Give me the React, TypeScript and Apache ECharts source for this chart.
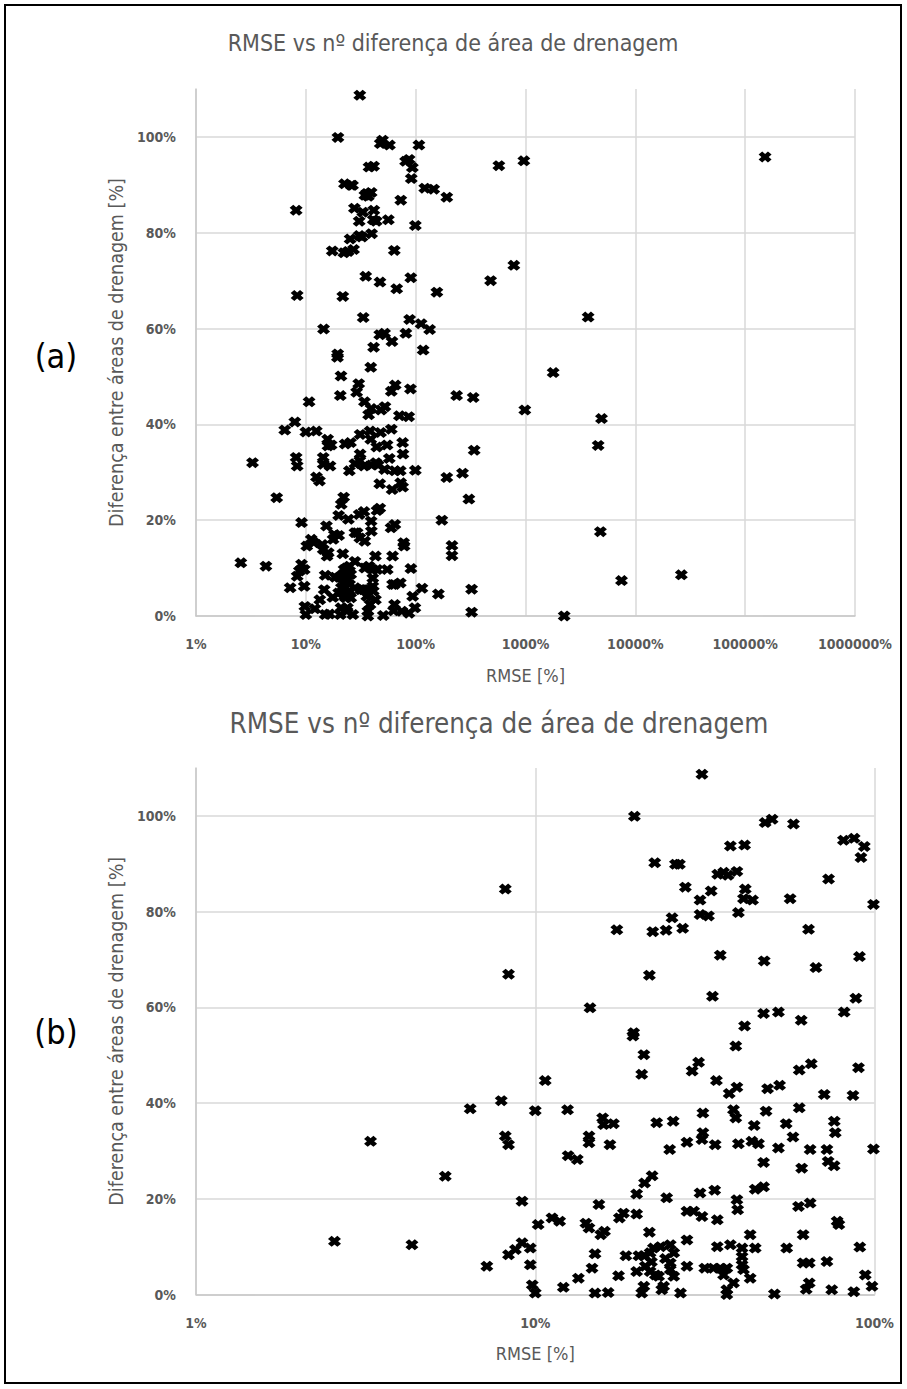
import React, { useEffect, useRef } from "react";
import * as echarts from "echarts";

// RMSE [%] vs drainage-area difference [%] for stations with RMSE up to 100 %
const ptsLow: [number, number][] = [
  [31.0, 108.7], [19.6, 99.9], [47.6, 98.6], [49.9, 99.3], [57.7, 98.3],
  [81.0, 94.9], [87.1, 95.3], [93.3, 93.6], [91.2, 91.3], [37.6, 93.7],
  [41.4, 93.9], [22.5, 90.2], [25.9, 89.9], [26.6, 89.9], [34.5, 87.8],
  [35.9, 88.2], [37.0, 87.6], [39.3, 88.4], [73.2, 86.8], [27.7, 85.1],
  [33.0, 84.3], [30.6, 82.4], [41.6, 84.7], [41.1, 82.7], [43.7, 82.4],
  [56.4, 82.7], [99.3, 81.5], [30.6, 79.4], [32.4, 79.1], [39.7, 79.8],
  [25.3, 78.7], [17.4, 76.2], [22.2, 75.8], [24.3, 76.1], [27.2, 76.5],
  [63.9, 76.3], [35.1, 70.9], [47.3, 69.7], [67.2, 68.3], [90.3, 70.6],
  [21.7, 66.7], [33.3, 62.3], [88.1, 61.9], [14.5, 59.9], [47.1, 58.7],
  [52.1, 59.0], [60.8, 57.3], [81.4, 59.0], [41.4, 56.1], [19.5, 54.7],
  [19.4, 54.0], [8.16, 84.7], [8.34, 66.9],
  [39.0, 51.9], [30.3, 48.5], [29.0, 46.7], [34.2, 44.7], [37.3, 42.0],
  [39.3, 43.3], [48.4, 43.0], [52.5, 43.7], [60.0, 46.9], [65.1, 48.2],
  [89.7, 47.4], [71.1, 41.8], [86.4, 41.6], [31.2, 37.9], [38.4, 38.6],
  [39.0, 36.9], [47.9, 38.3], [60.0, 39.0], [44.2, 35.3], [54.9, 35.7],
  [76.1, 36.2], [76.6, 33.8], [31.2, 33.8], [31.0, 32.4], [57.5, 32.9],
  [28.0, 31.8], [33.9, 31.3], [39.7, 31.5], [43.5, 32.0], [45.5, 31.5],
  [52.1, 30.6], [64.6, 30.3], [72.4, 30.3], [99.3, 30.4], [20.9, 50.1],
  [20.6, 46.0], [10.7, 44.7], [7.94, 40.5], [10.0, 38.4], [12.45, 38.6],
  [15.8, 36.9], [15.9, 35.5], [17.0, 35.7], [22.8, 35.9], [25.5, 36.2],
  [8.16, 33.1], [8.34, 31.3], [14.4, 33.1], [14.4, 31.7], [16.6, 31.3],
  [24.9, 30.3], [47.1, 27.6], [61.0, 26.4], [73.0, 27.8], [76.0, 26.9],
  [12.5, 29.0], [13.3, 28.2], [22.1, 24.8], [21.0, 23.3], [19.9, 21.0],
  [24.4, 20.2], [9.14, 19.5], [15.4, 18.8], [10.2, 14.6], [11.2, 16.0],
  [11.8, 15.3], [14.1, 14.9], [14.4, 13.9], [15.6, 12.5], [16.0, 13.2],
  [17.7, 16.0], [18.2, 17.0], [19.9, 16.8], [21.7, 13.0], [28.0, 17.4],
  [29.3, 17.4], [31.0, 16.3], [28.0, 11.4], [9.14, 10.8], [8.74, 9.4],
  [8.34, 8.3], [9.67, 9.7], [9.67, 6.2], [7.2, 5.9], [9.8, 2.0],
  [10.0, 0.3], [12.1, 1.5], [13.4, 3.4], [14.7, 5.5], [15.0, 8.5],
  [15.0, 0.3], [16.4, 0.4], [17.6, 3.9], [18.5, 8.1], [20.2, 8.1],
  [20.9, 8.1], [21.8, 8.7], [22.3, 9.7], [23.4, 10.0], [25.0, 10.4],
  [25.6, 8.7], [21.1, 5.9], [21.8, 4.8], [22.6, 4.1], [23.1, 3.8],
  [25.0, 6.6], [25.0, 5.2], [25.6, 3.8], [23.9, 1.7], [23.6, 1.0],
  [20.9, 1.7], [20.6, 0.3], [19.9, 4.8], [26.8, 0.3], [28.0, 5.9],
  [22.0, 6.8], [24.2, 7.5],
  [30.6, 21.2], [33.8, 21.8], [44.5, 22.0], [47.1, 22.5], [39.3, 19.8],
  [39.5, 17.7], [59.7, 18.4], [64.6, 19.1], [77.6, 15.3], [78.5, 14.6],
  [34.4, 15.6], [61.6, 12.5], [34.4, 10.0], [37.6, 10.4], [40.7, 9.7],
  [43.0, 12.5], [44.5, 9.7], [40.7, 7.9], [55.1, 9.7], [90.5, 9.9],
  [61.6, 6.6], [64.2, 6.6], [72.4, 6.9], [31.6, 5.5], [33.5, 5.5],
  [35.1, 5.5], [36.7, 5.5], [35.9, 4.1], [40.7, 6.2], [41.1, 5.2],
  [43.0, 3.4], [38.4, 2.4], [36.7, 1.0], [36.7, 0.0], [93.9, 4.1],
  [98.3, 1.7], [86.9, 0.6], [74.8, 1.0], [62.9, 1.1], [64.2, 2.4],
  [50.7, 0.1],
  [2.56, 11.1], [3.27, 32.0], [4.33, 10.4], [5.43, 24.7], [6.43, 38.8],
];

// stations whose RMSE exceeds 100 %
const ptsHigh: [number, number][] = [
  [107, 98.3], [121, 89.3], [146, 89.1], [192, 87.4], [156, 67.6],
  [481, 70.0], [572, 94.0], [966, 95.0], [151800, 95.8], [783, 73.2],
  [3715, 62.4], [1786, 50.8], [236, 46.0], [334, 45.6], [986, 43.0],
  [4920, 41.2], [4586, 35.6], [341, 34.6], [192, 28.9], [267, 29.8],
  [305, 24.4], [4808, 17.6], [173, 20.0], [214, 14.7], [214, 12.6],
  [114, 5.8], [161, 4.6], [323, 5.6], [323, 0.8], [2250, 0.0],
  [7482, 7.4], [26240, 8.6], [112, 61.0], [134, 59.8], [117, 55.5],
];

const chartTitle = "RMSE vs nº diferença de área de drenagem";
const xName = "RMSE [%]";
const yName = "Diferença entre áreas de drenagem [%]";
const panelLabels = ["(a)", "(b)"];

const FONT = "'Liberation Sans Narrow', 'DejaVu Sans Condensed', 'Roboto', sans-serif";
const TXT = "#595959";
const GRID = "#d9d9d9";
// bold "x" marker: two crossed bars with square ends
const XMARK =
  "path://M0,2.8 L2.8,0 L5,2.2 L7.2,0 L10,2.8 L7.8,5 L10,7.2 L7.2,10 L5,7.8 L2.8,10 L0,7.2 L2.2,5 Z";

const pct = (v: number) => `${v}%`;

function xAxisCfg(gridIndex: number, max: number) {
  return {
    type: "log",
    logBase: 10,
    gridIndex,
    min: 1,
    max,
    name: xName,
    nameLocation: "middle",
    nameGap: 50,
    nameTextStyle: { color: TXT, fontSize: 18, fontFamily: FONT },
    axisLine: { show: true, lineStyle: { color: "#c8c8c8", width: 1.5 } },
    axisTick: { show: false },
    axisLabel: { color: TXT, fontSize: 14, fontFamily: FONT, fontWeight: "bold", margin: 21, formatter: pct },
    splitLine: { show: true, lineStyle: { color: GRID, width: 1.5 } },
  };
}

function yAxisCfg(gridIndex: number) {
  return {
    type: "value",
    gridIndex,
    min: 0,
    max: 110,
    interval: 20,
    name: yName,
    nameLocation: "middle",
    nameGap: 57,
    nameTextStyle: { color: TXT, fontSize: 19.5, fontFamily: FONT },
    axisLine: { show: true, onZero: false, lineStyle: { color: "#c8c8c8", width: 1.5 } },
    axisTick: { show: false },
    axisLabel: {
      color: TXT, fontSize: 14, fontFamily: FONT, fontWeight: "bold", margin: 20,
      showMaxLabel: false,
      formatter: (v: number) => (v > 100 ? "" : pct(v)),
    },
    splitLine: { show: true, showMaxLine: false, lineStyle: { color: GRID, width: 1.5 } },
  };
}

function scatter(index: number, data: [number, number][]) {
  return {
    type: "scatter",
    xAxisIndex: index,
    yAxisIndex: index,
    symbol: XMARK,
    symbolSize: [13, 11],
    itemStyle: { color: "#000000", opacity: 1 },
    data,
  };
}

export default function App() {
  const ref = useRef<HTMLDivElement>(null);

  useEffect(() => {
    if (!ref.current) return;
    const chart = echarts.init(ref.current, undefined, { renderer: "svg" });
    chart.setOption({
      animation: false,
      backgroundColor: "#ffffff",
      title: [
        {
          text: chartTitle, left: 448, top: 26, textAlign: "center",
          textStyle: { color: TXT, fontSize: 23, fontWeight: "normal", fontFamily: FONT },
        },
        {
          text: chartTitle, left: 494, top: 704, textAlign: "center",
          textStyle: { color: TXT, fontSize: 27.5, fontWeight: "normal", fontFamily: FONT },
        },
      ],
      grid: [
        { left: 196, top: 89, width: 659, height: 527 },
        { left: 196, top: 768, width: 678.5, height: 526.5 },
      ],
      xAxis: [xAxisCfg(0, 1000000), xAxisCfg(1, 100)],
      yAxis: [yAxisCfg(0), yAxisCfg(1)],
      series: [scatter(0, ptsLow.concat(ptsHigh)), scatter(1, ptsLow)],
      graphic: [
        {
          type: "rect", shape: { x: 5, y: 5, width: 896, height: 1378 },
          style: { fill: "none", stroke: "#000000", lineWidth: 2 },
          silent: true,
        },
        {
          type: "text", x: 56, y: 356,
          style: { text: panelLabels[0], fill: "#000000", fontSize: 34, fontFamily: FONT, align: "center", verticalAlign: "middle" },
        },
        {
          type: "text", x: 56, y: 1032,
          style: { text: panelLabels[1], fill: "#000000", fontSize: 34, fontFamily: FONT, align: "center", verticalAlign: "middle" },
        },
      ],
    });
    return () => chart.dispose();
  }, []);

  return (
    <div
      ref={ref}
      style={{ position: "absolute", left: 0, top: 0, width: 907, height: 1389 }}
    />
  );
}
